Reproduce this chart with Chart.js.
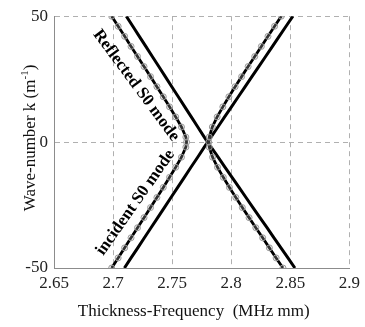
<!DOCTYPE html>
<html>
<head>
<meta charset="utf-8">
<script src="https://cdn.jsdelivr.net/npm/chart.js@4"></script>
<style>
  html, body { margin: 0; padding: 0; background: #fff; }
  #wrap { width: 365px; height: 327px; position: relative; }
</style>
</head>
<body>
<div id="wrap"><canvas id="dispersion"></canvas></div>
<script>
// wave-number k (1/m), shared by every curve
const WAVE_NUMBER = [50, 46, 42, 38, 34, 30, 26, 22, 18, 14, 10, 6, 2, 0,
  -2, -6, -10, -14, -18, -22, -26, -30, -34, -38, -42, -46, -50];

// thickness-frequency (MHz mm) of each branch at those k
const S0_LEFT = [2.6988, 2.7043, 2.7098, 2.7152, 2.7207, 2.7262, 2.7317, 2.7371, 2.7425, 2.7478, 2.7530, 2.7579, 2.7616, 2.7622,
  2.7616, 2.7579, 2.7530, 2.7478, 2.7425, 2.7371, 2.7317, 2.7262, 2.7207, 2.7152, 2.7098, 2.7043, 2.6988];
const S0_RIGHT = [2.8424, 2.8367, 2.8311, 2.8255, 2.8199, 2.8143, 2.8088, 2.8033, 2.7980, 2.7929, 2.7881, 2.7840, 2.7814, 2.7810,
  2.7814, 2.7842, 2.7884, 2.7933, 2.7985, 2.8039, 2.8094, 2.8151, 2.8208, 2.8266, 2.8323, 2.8380, 2.8438];
const CROSS_DOWN = [2.7112, 2.7167, 2.7222, 2.7277, 2.7332, 2.7387, 2.7442, 2.7497, 2.7552, 2.7607, 2.7662, 2.7717, 2.7772, 2.7800,
  2.7830, 2.7889, 2.7948, 2.8007, 2.8066, 2.8125, 2.8184, 2.8243, 2.8303, 2.8362, 2.8421, 2.8480, 2.8539];
const CROSS_UP = [2.8522, 2.8464, 2.8406, 2.8349, 2.8291, 2.8233, 2.8175, 2.8118, 2.8060, 2.8002, 2.7944, 2.7887, 2.7829, 2.7800,
  2.7772, 2.7716, 2.7659, 2.7603, 2.7547, 2.7490, 2.7434, 2.7378, 2.7321, 2.7265, 2.7209, 2.7152, 2.7096];

const X_TICKS = [2.65, 2.7, 2.75, 2.8, 2.85, 2.9];
const Y_TICKS = [-50, 0, 50];

const SERIF = "'Liberation Serif', 'Times New Roman', serif";

function toPoints(xs) {
  return xs.map((x, i) => ({ x: x, y: WAVE_NUMBER[i] }));
}

function rotatedLabel(ctx, text, x, y, deg) {
  ctx.save();
  ctx.translate(x, y);
  ctx.rotate(deg * Math.PI / 180);
  ctx.fillText(text, 0, 0);
  ctx.restore();
}

// mode labels along the branches + axis titles (y title needs a superscript)
const textLayer = {
  id: 'textLayer',
  afterDraw(chart) {
    const { ctx, chartArea, scales } = chart;
    const sx = scales.x, sy = scales.y;
    ctx.save();
    ctx.fillStyle = '#000';
    ctx.textAlign = 'center';
    ctx.textBaseline = 'middle';
    ctx.font = 'bold 17px ' + SERIF;
    rotatedLabel(ctx, 'Reflected S0 mode', sx.getPixelForValue(2.7195), sy.getPixelForValue(22.5), 53.5);
    rotatedLabel(ctx, 'incident S0 mode', sx.getPixelForValue(2.7190), sy.getPixelForValue(-24), -55);

    ctx.fillStyle = '#111';
    ctx.textBaseline = 'alphabetic';
    ctx.font = '17px ' + SERIF;
    ctx.fillText('Thickness-Frequency  (MHz mm)', (chartArea.left + chartArea.right) / 2 - 8, 316);

    // y title, rotated
    const main = 'Wave-number k (m', sup = '-1', tail = ')';
    ctx.font = '17px ' + SERIF;
    const w1 = ctx.measureText(main).width;
    const w3 = ctx.measureText(tail).width;
    ctx.font = '11px ' + SERIF;
    const w2 = ctx.measureText(sup).width;
    const total = w1 + w2 + w3;
    ctx.translate(35, 138);
    ctx.rotate(-Math.PI / 2);
    ctx.textAlign = 'left';
    let x0 = -total / 2;
    ctx.font = '17px ' + SERIF;
    ctx.fillText(main, x0, 0);
    ctx.font = '11px ' + SERIF;
    ctx.fillText(sup, x0 + w1, -7);
    ctx.font = '17px ' + SERIF;
    ctx.fillText(tail, x0 + w1 + w2, 0);
    ctx.restore();
  }
};

const plainLine = {
  showLine: true,
  borderColor: '#000',
  borderWidth: 3,
  pointRadius: 0,
  order: 2
};
const markedLine = {
  showLine: true,
  borderColor: '#000',
  borderWidth: 2.8,
  pointRadius: 3,
  pointBorderWidth: 1,
  pointBorderColor: '#9a9a9a',
  pointBackgroundColor: 'rgba(200,200,200,0.25)',
  order: 1
};

new Chart(document.getElementById('dispersion'), {
  type: 'scatter',
  data: {
    datasets: [
      Object.assign({ data: toPoints(CROSS_DOWN) }, plainLine),
      Object.assign({ data: toPoints(CROSS_UP) }, plainLine),
      Object.assign({ data: toPoints(S0_LEFT) }, markedLine),
      Object.assign({ data: toPoints(S0_RIGHT) }, markedLine)
    ]
  },
  options: {
    responsive: true,
    maintainAspectRatio: false,
    animation: false,
    layout: { padding: { top: 15, right: 13, left: 0, bottom: 0 } },
    plugins: {
      legend: { display: false },
      tooltip: { enabled: false }
    },
    scales: {
      x: {
        type: 'linear',
        min: 2.65,
        max: 2.9,
        afterBuildTicks: (scale) => { scale.ticks = X_TICKS.map(v => ({ value: v })); },
        afterFit: (scale) => { scale.height = 59; },
        ticks: {
          padding: 5,
          color: '#222',
          font: { family: SERIF, size: 17 },
          callback: (v) => String(parseFloat(Number(v).toFixed(2)))
        },
        grid: { color: '#b0b0b0', lineWidth: 1, drawTicks: false },
        border: { display: true, color: '#8c8c8c', width: 1, dash: [5, 4] }
      },
      y: {
        min: -50,
        max: 50,
        afterBuildTicks: (scale) => { scale.ticks = Y_TICKS.map(v => ({ value: v })); },
        afterFit: (scale) => { scale.width = 54; },
        ticks: {
          padding: 6,
          color: '#222',
          font: { family: SERIF, size: 17 }
        },
        grid: { color: '#b0b0b0', lineWidth: 1, drawTicks: false },
        border: { display: true, color: '#8c8c8c', width: 1, dash: [5, 4] }
      }
    }
  },
  plugins: [textLayer]
});
</script>
</body>
</html>
